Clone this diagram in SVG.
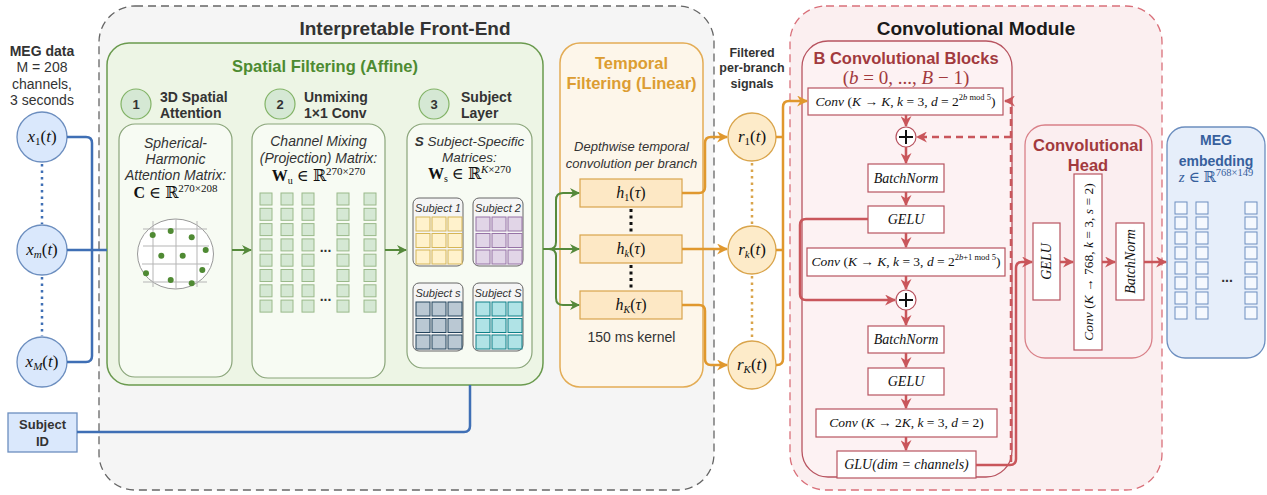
<svg xmlns="http://www.w3.org/2000/svg" width="1267" height="495" viewBox="0 0 1267 495">
<style>
.sans{font-family:"Liberation Sans",Arial,sans-serif}
.b{font-weight:bold}
.it{font-style:italic}
.m{font-family:"Liberation Serif","DejaVu Serif",serif}
.mi{font-style:italic}
.t333{fill:#333}
.blue{fill:none;stroke:#3f6fb5;stroke-width:2.5}
.grn{fill:none;stroke:#55893b;stroke-width:2}
.org{fill:none;stroke:#e0982e;stroke-width:2.5}
.red{fill:none;stroke:#c9565b;stroke-width:2.5}
.sq2{fill:#d5e8d4;stroke:#9ab98a;stroke-width:1}
.sqe{fill:#f4f8fe;stroke:#6c8ebf;stroke-width:1}
.cb{fill:#fff;stroke:#b85460;stroke-width:1.2}
.sb{fill:#f5f5f5;stroke:#666;stroke-width:1}
</style>
<defs>
<marker id="aG" viewBox="0 0 10 10" markerWidth="10" markerHeight="10" refX="9" refY="5" orient="auto" markerUnits="userSpaceOnUse"><path d="M0,0 L10,5 L0,10 L3,5z" fill="#55893b"/></marker>
<marker id="aO" viewBox="0 0 10 10" markerWidth="11" markerHeight="11" refX="9" refY="5" orient="auto" markerUnits="userSpaceOnUse"><path d="M0,0 L10,5 L0,10 L3,5z" fill="#e0982e"/></marker>
<marker id="aR" viewBox="0 0 10 10" markerWidth="11" markerHeight="11" refX="9" refY="5" orient="auto" markerUnits="userSpaceOnUse"><path d="M0,0 L10,5 L0,10 L3,5z" fill="#c9565b"/></marker>
</defs>

<!-- containers -->
<g id="front-end">
<rect x="99" y="6" width="615" height="484" rx="36" fill="#f5f5f5" stroke="#666" stroke-width="1.3" stroke-dasharray="8,5"/>
<text x="405" y="35" text-anchor="middle" class="sans b" font-size="19" fill="#333">Interpretable Front-End</text>
</g>
<g id="conv-module">
<rect x="790" y="6" width="372" height="484" rx="36" fill="#fbeff0" stroke="#d9707a" stroke-width="1.3" stroke-dasharray="8,5"/>
<text x="976" y="35" text-anchor="middle" class="sans b" font-size="19" fill="#1a1a1a">Convolutional Module</text>
</g>

<!-- MEG data -->
<g id="meg-data">
<text class="sans" font-size="14" fill="#333" text-anchor="middle"><tspan x="42" y="56" font-weight="bold">MEG data</tspan><tspan x="42" y="72">M = 208</tspan><tspan x="42" y="89">channels,</tspan><tspan x="42" y="105">3 seconds</tspan></text>
</g>
<g id="x1"><circle cx="42" cy="137" r="25" fill="#dae8fc" stroke="#6c8ebf" stroke-width="1.3"/>
<text x="42" y="142" text-anchor="middle" class="m" font-size="17" fill="#111"><tspan class="mi">x</tspan><tspan font-size="11" dy="3">1</tspan><tspan dy="-3">(</tspan><tspan class="mi">t</tspan>)</text></g>
<g id="xm"><circle cx="42" cy="250" r="25" fill="#dae8fc" stroke="#6c8ebf" stroke-width="1.3"/>
<text x="42" y="255" text-anchor="middle" class="m" font-size="17" fill="#111"><tspan class="mi">x</tspan><tspan font-size="11" dy="3" class="mi">m</tspan><tspan dy="-3">(</tspan><tspan class="mi">t</tspan>)</text></g>
<g id="xM"><circle cx="42" cy="362" r="25" fill="#dae8fc" stroke="#6c8ebf" stroke-width="1.3"/>
<text x="42" y="367" text-anchor="middle" class="m" font-size="17" fill="#111"><tspan class="mi">x</tspan><tspan font-size="11" dy="3" class="mi">M</tspan><tspan dy="-3">(</tspan><tspan class="mi">t</tspan>)</text></g>
<g id="subject-id"><rect x="8" y="413" width="69" height="39" fill="#dae8fc" stroke="#6c8ebf" stroke-width="1.3"/>
<text class="sans b" font-size="13" fill="#333" text-anchor="middle"><tspan x="42.5" y="429">Subject</tspan><tspan x="42.5" y="446">ID</tspan></text></g>

<!-- spatial filtering -->
<g id="spatial-filtering">
<rect x="107" y="43" width="436" height="342" rx="22" fill="#edf5e5" stroke="#6a9a4e" stroke-width="1.5"/>
<text x="325" y="72" text-anchor="middle" class="sans b" font-size="16.5" fill="#4d8b31">Spatial Filtering (Affine)</text>
</g>
<g id="step1">
<circle cx="136" cy="104" r="15" fill="#d5e8d4" stroke="#82b366" stroke-width="1.2"/>
<text x="136" y="109" text-anchor="middle" class="sans b" font-size="13" fill="#333">1</text>
<text class="sans b" font-size="14" fill="#333"><tspan x="160" y="102">3D Spatial</tspan><tspan x="160" y="118">Attention</tspan></text>
</g>
<g id="step2">
<circle cx="280" cy="104" r="15" fill="#d5e8d4" stroke="#82b366" stroke-width="1.2"/>
<text x="280" y="109" text-anchor="middle" class="sans b" font-size="13" fill="#333">2</text>
<text class="sans b" font-size="14" fill="#333"><tspan x="304" y="102">Unmixing</tspan><tspan x="304" y="118">1×1 Conv</tspan></text>
</g>
<g id="step3">
<circle cx="434" cy="104" r="15" fill="#d5e8d4" stroke="#82b366" stroke-width="1.2"/>
<text x="434" y="109" text-anchor="middle" class="sans b" font-size="13" fill="#333">3</text>
<text class="sans b" font-size="14" fill="#333"><tspan x="461" y="102">Subject</tspan><tspan x="461" y="118">Layer</tspan></text>
</g>

<g id="attention-box">
<rect x="119" y="124" width="113" height="253" rx="16" fill="#f7fbf3" stroke="#8aa57a" stroke-width="1.2"/>
<text class="sans it" font-size="14" fill="#333" text-anchor="middle"><tspan x="175.5" y="148">Spherical-</tspan><tspan x="175.5" y="164">Harmonic</tspan><tspan x="175.5" y="180">Attention Matrix:</tspan></text>
<text x="175.5" y="198" text-anchor="middle" class="m" font-size="16" fill="#111"><tspan font-weight="bold">C</tspan> ∈ ℝ<tspan font-size="11" dy="-6">270×208</tspan></text>
<ellipse cx="175.5" cy="254" rx="38" ry="35" fill="#fff" stroke="#999" stroke-width="1"/>
<g stroke="#b5b5b5" stroke-width="1">
<line x1="153" y1="221" x2="153" y2="287"/><line x1="176" y1="219" x2="176" y2="289"/><line x1="197" y1="221" x2="197" y2="287"/>
<line x1="143" y1="229" x2="207" y2="229"/><line x1="143" y1="246" x2="209" y2="246"/><line x1="142" y1="264" x2="209" y2="264"/><line x1="143" y1="282" x2="207" y2="282"/>
</g>
<g fill="#4f8a33">
<circle cx="152.7" cy="235" r="3"/><circle cx="170.7" cy="231" r="3"/><circle cx="191.7" cy="237.3" r="3"/><circle cx="205.7" cy="250" r="3"/><circle cx="161.3" cy="255.7" r="3"/><circle cx="182.7" cy="255.7" r="3"/><circle cx="146" cy="273.3" r="3"/><circle cx="170.7" cy="280" r="3"/><circle cx="191.7" cy="283.3" r="3"/><circle cx="202.3" cy="270" r="3"/>
</g>
</g>

<g id="unmixing-box">
<rect x="252" y="124" width="133" height="254" rx="16" fill="#f7fbf3" stroke="#8aa57a" stroke-width="1.2"/>
<text class="sans it" font-size="14" fill="#333" text-anchor="middle"><tspan x="318.5" y="146">Channel Mixing</tspan><tspan x="318.5" y="163">(Projection) Matrix:</tspan></text>
<text x="318.5" y="181" text-anchor="middle" class="m" font-size="16" fill="#111"><tspan font-weight="bold">W</tspan><tspan font-size="10" dy="3">u</tspan><tspan dy="-3"> ∈ ℝ</tspan><tspan font-size="11" dy="-6">270×270</tspan></text>
<g>
<rect class="sq2" x="260" y="193" width="12" height="12"/><rect class="sq2" x="260" y="208.3" width="12" height="12"/><rect class="sq2" x="260" y="223.6" width="12" height="12"/><rect class="sq2" x="260" y="238.9" width="12" height="12"/><rect class="sq2" x="260" y="254.2" width="12" height="12"/><rect class="sq2" x="260" y="269.5" width="12" height="12"/><rect class="sq2" x="260" y="284.8" width="12" height="12"/><rect class="sq2" x="260" y="300.1" width="12" height="12"/>
<rect class="sq2" x="281" y="193" width="12" height="12"/><rect class="sq2" x="281" y="208.3" width="12" height="12"/><rect class="sq2" x="281" y="223.6" width="12" height="12"/><rect class="sq2" x="281" y="238.9" width="12" height="12"/><rect class="sq2" x="281" y="254.2" width="12" height="12"/><rect class="sq2" x="281" y="269.5" width="12" height="12"/><rect class="sq2" x="281" y="284.8" width="12" height="12"/><rect class="sq2" x="281" y="300.1" width="12" height="12"/>
<rect class="sq2" x="302" y="193" width="12" height="12"/><rect class="sq2" x="302" y="208.3" width="12" height="12"/><rect class="sq2" x="302" y="223.6" width="12" height="12"/><rect class="sq2" x="302" y="238.9" width="12" height="12"/><rect class="sq2" x="302" y="254.2" width="12" height="12"/><rect class="sq2" x="302" y="269.5" width="12" height="12"/><rect class="sq2" x="302" y="284.8" width="12" height="12"/><rect class="sq2" x="302" y="300.1" width="12" height="12"/>
<rect class="sq2" x="337" y="193" width="12" height="12"/><rect class="sq2" x="337" y="208.3" width="12" height="12"/><rect class="sq2" x="337" y="223.6" width="12" height="12"/><rect class="sq2" x="337" y="238.9" width="12" height="12"/><rect class="sq2" x="337" y="254.2" width="12" height="12"/><rect class="sq2" x="337" y="269.5" width="12" height="12"/><rect class="sq2" x="337" y="284.8" width="12" height="12"/><rect class="sq2" x="337" y="300.1" width="12" height="12"/>
<rect class="sq2" x="364" y="193" width="12" height="12"/><rect class="sq2" x="364" y="208.3" width="12" height="12"/><rect class="sq2" x="364" y="223.6" width="12" height="12"/><rect class="sq2" x="364" y="238.9" width="12" height="12"/><rect class="sq2" x="364" y="254.2" width="12" height="12"/><rect class="sq2" x="364" y="269.5" width="12" height="12"/><rect class="sq2" x="364" y="284.8" width="12" height="12"/><rect class="sq2" x="364" y="300.1" width="12" height="12"/>
</g>
<text class="sans b" font-size="14" fill="#333" text-anchor="middle"><tspan x="325.5" y="252">...</tspan><tspan x="325.5" y="301">...</tspan></text>
</g>

<g id="subject-layer-box">
<rect x="407" y="124" width="125" height="244" rx="16" fill="#f7fbf3" stroke="#8aa57a" stroke-width="1.2"/>
<text class="sans it" font-size="13.5" fill="#333" text-anchor="middle"><tspan x="469.5" y="146"><tspan font-weight="bold">S</tspan> Subject-Specific</tspan><tspan x="469.5" y="162">Matrices:</tspan></text>
<text x="469.5" y="179" text-anchor="middle" class="m" font-size="16" fill="#111"><tspan font-weight="bold">W</tspan><tspan font-size="10" dy="3">s</tspan><tspan dy="-3"> ∈ ℝ</tspan><tspan font-size="11" dy="-6"><tspan class="mi">K</tspan>×270</tspan></text>
</g>
<g id="subject-1">
<rect class="sb" x="413" y="198" width="50" height="68" rx="6" fill="#f7f3ea"/>
<text x="438" y="212" text-anchor="middle" class="sans it" font-size="11" fill="#333">Subject 1</text>
<g fill="#fff2cc" stroke="#d6b656" stroke-width="1">
<rect x="416" y="217" width="14" height="14"/><rect x="432" y="217" width="14" height="14"/><rect x="448" y="217" width="14" height="14"/>
<rect x="416" y="233.5" width="14" height="14"/><rect x="432" y="233.5" width="14" height="14"/><rect x="448" y="233.5" width="14" height="14"/>
<rect x="416" y="250" width="14" height="14"/><rect x="432" y="250" width="14" height="14"/><rect x="448" y="250" width="14" height="14"/>
</g></g>
<g id="subject-2">
<rect class="sb" x="473" y="198" width="50" height="68" rx="6"/>
<text x="498" y="212" text-anchor="middle" class="sans it" font-size="11" fill="#333">Subject 2</text>
<g fill="#e1d5e7" stroke="#9673a6" stroke-width="1">
<rect x="476" y="217" width="14" height="14"/><rect x="492" y="217" width="14" height="14"/><rect x="508" y="217" width="14" height="14"/>
<rect x="476" y="233.5" width="14" height="14"/><rect x="492" y="233.5" width="14" height="14"/><rect x="508" y="233.5" width="14" height="14"/>
<rect x="476" y="250" width="14" height="14"/><rect x="492" y="250" width="14" height="14"/><rect x="508" y="250" width="14" height="14"/>
</g></g>
<g id="subject-s">
<rect class="sb" x="413" y="283" width="50" height="68" rx="6"/>
<text x="438" y="297" text-anchor="middle" class="sans it" font-size="11" fill="#333">Subject s</text>
<g fill="#bac8d3" stroke="#23445d" stroke-width="1">
<rect x="416" y="302" width="14" height="14"/><rect x="432" y="302" width="14" height="14"/><rect x="448" y="302" width="14" height="14"/>
<rect x="416" y="318.5" width="14" height="14"/><rect x="432" y="318.5" width="14" height="14"/><rect x="448" y="318.5" width="14" height="14"/>
<rect x="416" y="335" width="14" height="14"/><rect x="432" y="335" width="14" height="14"/><rect x="448" y="335" width="14" height="14"/>
</g></g>
<g id="subject-S">
<rect class="sb" x="473" y="283" width="50" height="68" rx="6"/>
<text x="498" y="297" text-anchor="middle" class="sans it" font-size="11" fill="#333">Subject S</text>
<g fill="#b0e3e6" stroke="#0e8088" stroke-width="1">
<rect x="476" y="302" width="14" height="14"/><rect x="492" y="302" width="14" height="14"/><rect x="508" y="302" width="14" height="14"/>
<rect x="476" y="318.5" width="14" height="14"/><rect x="492" y="318.5" width="14" height="14"/><rect x="508" y="318.5" width="14" height="14"/>
<rect x="476" y="335" width="14" height="14"/><rect x="492" y="335" width="14" height="14"/><rect x="508" y="335" width="14" height="14"/>
</g></g>

<!-- temporal filtering -->
<g id="temporal-filtering">
<rect x="560" y="43" width="143" height="344" rx="20" fill="#fdf6ea" stroke="#e3ac55" stroke-width="1.5"/>
<text class="sans b" font-size="16.5" fill="#dc9d32" text-anchor="middle"><tspan x="631.5" y="69">Temporal</tspan><tspan x="631.5" y="89">Filtering (Linear)</tspan></text>
<text class="sans it" font-size="13" fill="#333" text-anchor="middle"><tspan x="631.5" y="151">Depthwise temporal</tspan><tspan x="631.5" y="168">convolution per branch</tspan></text>
<text x="631.5" y="342" text-anchor="middle" class="sans" font-size="14" fill="#333">150 ms kernel</text>
<g stroke="#111" stroke-width="3" stroke-dasharray="3,3.5"><line x1="631" y1="209" x2="631" y2="235"/><line x1="631" y1="265" x2="631" y2="291"/></g>
</g>
<g id="h1"><rect x="580" y="179" width="102" height="28" fill="#fde8c5" stroke="#d9a44b" stroke-width="1.2"/>
<text x="631" y="198" text-anchor="middle" class="m" font-size="16" fill="#111"><tspan class="mi">h</tspan><tspan font-size="10" dy="3">1</tspan><tspan dy="-3">(</tspan><tspan class="mi">τ</tspan>)</text></g>
<g id="hk"><rect x="580" y="235" width="102" height="28" fill="#fde8c5" stroke="#d9a44b" stroke-width="1.2"/>
<text x="631" y="254" text-anchor="middle" class="m" font-size="16" fill="#111"><tspan class="mi">h</tspan><tspan font-size="10" dy="3" class="mi">k</tspan><tspan dy="-3">(</tspan><tspan class="mi">τ</tspan>)</text></g>
<g id="hK"><rect x="580" y="291" width="102" height="28" fill="#fde8c5" stroke="#d9a44b" stroke-width="1.2"/>
<text x="631" y="310" text-anchor="middle" class="m" font-size="16" fill="#111"><tspan class="mi">h</tspan><tspan font-size="10" dy="3" class="mi">K</tspan><tspan dy="-3">(</tspan><tspan class="mi">τ</tspan>)</text></g>

<!-- filtered signals -->
<g id="filtered-label"><text class="sans b" font-size="12.5" fill="#333" text-anchor="middle"><tspan x="752" y="57">Filtered</tspan><tspan x="752" y="72">per-branch</tspan><tspan x="752" y="88">signals</tspan></text></g>
<g id="r1"><circle cx="752" cy="137" r="24" fill="#fdebc9" stroke="#d9a44b" stroke-width="1.3"/>
<text x="752" y="142" text-anchor="middle" class="m" font-size="17" fill="#111"><tspan class="mi">r</tspan><tspan font-size="11" dy="3">1</tspan><tspan dy="-3">(</tspan><tspan class="mi">t</tspan>)</text></g>
<g id="rk"><circle cx="752" cy="250" r="24" fill="#fdebc9" stroke="#d9a44b" stroke-width="1.3"/>
<text x="752" y="255" text-anchor="middle" class="m" font-size="17" fill="#111"><tspan class="mi">r</tspan><tspan font-size="11" dy="3" class="mi">k</tspan><tspan dy="-3">(</tspan><tspan class="mi">t</tspan>)</text></g>
<g id="rK"><circle cx="752" cy="365" r="24" fill="#fdebc9" stroke="#d9a44b" stroke-width="1.3"/>
<text x="752" y="370" text-anchor="middle" class="m" font-size="17" fill="#111"><tspan class="mi">r</tspan><tspan font-size="11" dy="3" class="mi">K</tspan><tspan dy="-3">(</tspan><tspan class="mi">t</tspan>)</text></g>

<!-- conv blocks -->
<g id="conv-blocks">
<rect x="802" y="41" width="210" height="436" rx="26" fill="#fdf2f3" stroke="#b85460" stroke-width="1.3"/>
<text x="906" y="64" text-anchor="middle" class="sans b" font-size="16.5" fill="#a23a3e">B Convolutional Blocks</text>
<text x="906" y="84" text-anchor="middle" class="m" font-size="19" fill="#a23a3e">(<tspan class="mi">b</tspan> = 0, ..., <tspan class="mi">B</tspan> − 1)</text>
</g>
<g id="conv1"><rect class="cb" x="808" y="88" width="195" height="27"/>
<text x="905.5" y="106" text-anchor="middle" class="m" font-size="13.5" fill="#111"><tspan class="mi">Conv</tspan> (<tspan class="mi">K</tspan> → <tspan class="mi">K</tspan>, <tspan class="mi">k</tspan> = 3, <tspan class="mi">d</tspan> = 2<tspan font-size="8.5" dy="-6">2<tspan class="mi">b</tspan> mod 5</tspan><tspan dy="6">)</tspan></text></g>
<g id="plus1"><circle cx="906" cy="137" r="10" fill="#fff" stroke="#b85460" stroke-width="1.2"/><path d="M899,137 H913 M906,130 V144" stroke="#111" stroke-width="2"/></g>
<g id="bn1"><rect class="cb" x="868" y="164" width="76" height="28"/><text x="906" y="183" text-anchor="middle" class="m mi" font-size="14" fill="#111">BatchNorm</text></g>
<g id="gelu1"><rect class="cb" x="868" y="206" width="76" height="27"/><text x="906" y="224" text-anchor="middle" class="m mi" font-size="14" fill="#111">GELU</text></g>
<g id="conv2"><rect class="cb" x="807" y="248" width="198" height="28"/>
<text x="906" y="266" text-anchor="middle" class="m" font-size="13.5" fill="#111"><tspan class="mi">Conv</tspan> (<tspan class="mi">K</tspan> → <tspan class="mi">K</tspan>, <tspan class="mi">k</tspan> = 3, <tspan class="mi">d</tspan> = 2<tspan font-size="8.5" dy="-6">2<tspan class="mi">b</tspan>+1 mod 5</tspan><tspan dy="6">)</tspan></text></g>
<g id="plus2"><circle cx="906" cy="300" r="10" fill="#fff" stroke="#b85460" stroke-width="1.2"/><path d="M899,300 H913 M906,293 V307" stroke="#111" stroke-width="2"/></g>
<g id="bn2"><rect class="cb" x="868" y="326" width="76" height="27"/><text x="906" y="344" text-anchor="middle" class="m mi" font-size="14" fill="#111">BatchNorm</text></g>
<g id="gelu2"><rect class="cb" x="868" y="368" width="76" height="27"/><text x="906" y="386" text-anchor="middle" class="m mi" font-size="14" fill="#111">GELU</text></g>
<g id="conv3"><rect class="cb" x="816" y="409" width="181" height="28"/>
<text x="906.5" y="427" text-anchor="middle" class="m" font-size="13.5" fill="#111"><tspan class="mi">Conv</tspan> (<tspan class="mi">K</tspan> → 2<tspan class="mi">K</tspan>, <tspan class="mi">k</tspan> = 3, <tspan class="mi">d</tspan> = 2)</text></g>
<g id="glu"><rect class="cb" x="837" y="451" width="139" height="27"/>
<text x="906.5" y="469" text-anchor="middle" class="m mi" font-size="14" fill="#111">GLU(dim = channels)</text></g>

<!-- conv head -->
<g id="conv-head">
<rect x="1025" y="125" width="127" height="233" rx="20" fill="#fbeef0" stroke="#d98088" stroke-width="1.3"/>
<text class="sans b" font-size="16.5" fill="#a23a3e" text-anchor="middle"><tspan x="1088" y="151">Convolutional</tspan><tspan x="1088" y="171">Head</tspan></text>
</g>
<g id="head-gelu"><rect class="cb" x="1033" y="223" width="27" height="77"/>
<text transform="rotate(-90 1046.5 261.5)" x="1046.5" y="266" text-anchor="middle" class="m mi" font-size="14" fill="#111">GELU</text></g>
<g id="head-conv"><rect class="cb" x="1074" y="174" width="28" height="176"/>
<text transform="rotate(-90 1088 262)" x="1088" y="266.5" text-anchor="middle" class="m" font-size="13.5" fill="#111"><tspan class="mi">Conv</tspan> (<tspan class="mi">K</tspan> → 768, <tspan class="mi">k</tspan> = 3, <tspan class="mi">s</tspan> = 2)</text></g>
<g id="head-bn"><rect class="cb" x="1116" y="223" width="28" height="77"/>
<text transform="rotate(-90 1130 261.5)" x="1130" y="266" text-anchor="middle" class="m mi" font-size="14" fill="#111">BatchNorm</text></g>

<!-- MEG embedding -->
<g id="meg-embedding">
<rect x="1167" y="127" width="98" height="231" rx="18" fill="#e6eefa" stroke="#6c8ebf" stroke-width="1.3"/>
<text class="sans b" font-size="14" fill="#36609d" text-anchor="middle"><tspan x="1216" y="145">MEG</tspan><tspan x="1216" y="166">embedding</tspan></text>
<text x="1216" y="182" text-anchor="middle" class="m" font-size="15" fill="#36609d"><tspan class="mi">z</tspan> ∈ ℝ<tspan font-size="10.5" dy="-6">768×149</tspan></text>
<g>
<rect class="sqe" x="1175" y="202" width="12" height="12"/><rect class="sqe" x="1175" y="217" width="12" height="12"/><rect class="sqe" x="1175" y="232" width="12" height="12"/><rect class="sqe" x="1175" y="247" width="12" height="12"/><rect class="sqe" x="1175" y="262" width="12" height="12"/><rect class="sqe" x="1175" y="277" width="12" height="12"/><rect class="sqe" x="1175" y="292" width="12" height="12"/><rect class="sqe" x="1175" y="307" width="12" height="12"/>
<rect class="sqe" x="1196" y="202" width="12" height="12"/><rect class="sqe" x="1196" y="217" width="12" height="12"/><rect class="sqe" x="1196" y="232" width="12" height="12"/><rect class="sqe" x="1196" y="247" width="12" height="12"/><rect class="sqe" x="1196" y="262" width="12" height="12"/><rect class="sqe" x="1196" y="277" width="12" height="12"/><rect class="sqe" x="1196" y="292" width="12" height="12"/><rect class="sqe" x="1196" y="307" width="12" height="12"/>
<rect class="sqe" x="1245" y="202" width="12" height="12"/><rect class="sqe" x="1245" y="217" width="12" height="12"/><rect class="sqe" x="1245" y="232" width="12" height="12"/><rect class="sqe" x="1245" y="247" width="12" height="12"/><rect class="sqe" x="1245" y="262" width="12" height="12"/><rect class="sqe" x="1245" y="277" width="12" height="12"/><rect class="sqe" x="1245" y="292" width="12" height="12"/><rect class="sqe" x="1245" y="307" width="12" height="12"/>
</g>
<text x="1227" y="282" text-anchor="middle" class="sans b" font-size="14" fill="#333">...</text>
</g>

<!-- connectors -->
<g id="connectors">
<g stroke="#3f6fb5" stroke-width="2.5" stroke-dasharray="2.5,4" fill="none"><line x1="42" y1="164" x2="42" y2="224"/><line x1="42" y1="277" x2="42" y2="336"/></g>
<path class="blue" d="M67,137 H86 Q92,137 92,143 V356 Q92,362 86,362 H67"/>
<path class="blue" d="M67,250 H107"/>
<path class="blue" d="M77,432 H464 Q470,432 470,426 V385"/>

<path class="grn" d="M232,250 H251" marker-end="url(#aG)"/>
<path class="grn" d="M385,250 H406" marker-end="url(#aG)"/>
<path class="grn" d="M543,249 H549 Q556,249 556,242 V200 Q556,193 563,193 H579" marker-end="url(#aG)"/>
<path class="grn" d="M543,249 H579" marker-end="url(#aG)"/>
<path class="grn" d="M549,249 Q556,249 556,256 V298 Q556,305 563,305 H579" marker-end="url(#aG)"/>

<path class="org" d="M682,193 H699 Q705,193 705,187 V143 Q705,137 711,137 H727" marker-end="url(#aO)"/>
<path class="org" d="M682,249 H727" marker-end="url(#aO)"/>
<path class="org" d="M682,305 H699 Q705,305 705,311 V359 Q705,365 711,365 H727" marker-end="url(#aO)"/>
<g stroke="#d9a44b" stroke-width="2.5" stroke-dasharray="2.5,4" fill="none"><line x1="752" y1="163" x2="752" y2="225"/><line x1="752" y1="276" x2="752" y2="340"/></g>
<path class="org" d="M776,365 H777 Q783,365 783,359 V107 Q783,101 789,101 H807" marker-end="url(#aO)"/>
<path class="org" d="M776,137 H783 M776,250 H783"/>

<path class="red" d="M906,115 V126" marker-end="url(#aR)"/>
<path class="red" d="M906,147 V163" marker-end="url(#aR)"/>
<path class="red" d="M906,192 V205" marker-end="url(#aR)"/>
<path class="red" d="M906,233 V247" marker-end="url(#aR)"/>
<path class="red" d="M906,276 V289" marker-end="url(#aR)"/>
<path class="red" d="M906,310 V325" marker-end="url(#aR)"/>
<path class="red" d="M906,353 V367" marker-end="url(#aR)"/>
<path class="red" d="M906,395 V408" marker-end="url(#aR)"/>
<path class="red" d="M906,437 V450" marker-end="url(#aR)"/>
<path class="red" d="M868,219 H806 Q800,219 800,225 V294 Q800,300 806,300 H895" marker-end="url(#aR)"/>
<path class="red" d="M976,465 H1010 Q1016,465 1016,459 V268 Q1016,262 1022,262 H1032" marker-end="url(#aR)"/>
<path class="red" d="M1011,462 V101 H1005" stroke-dasharray="7,5" marker-end="url(#aR)"/>
<path class="red" d="M1011,137 H917" stroke-dasharray="7,5" marker-end="url(#aR)"/>
<path class="red" d="M1060,262 H1073" marker-end="url(#aR)"/>
<path class="red" d="M1102,262 H1115" marker-end="url(#aR)"/>
<path class="red" d="M1144,262 H1166" marker-end="url(#aR)"/>
</g>
</svg>
